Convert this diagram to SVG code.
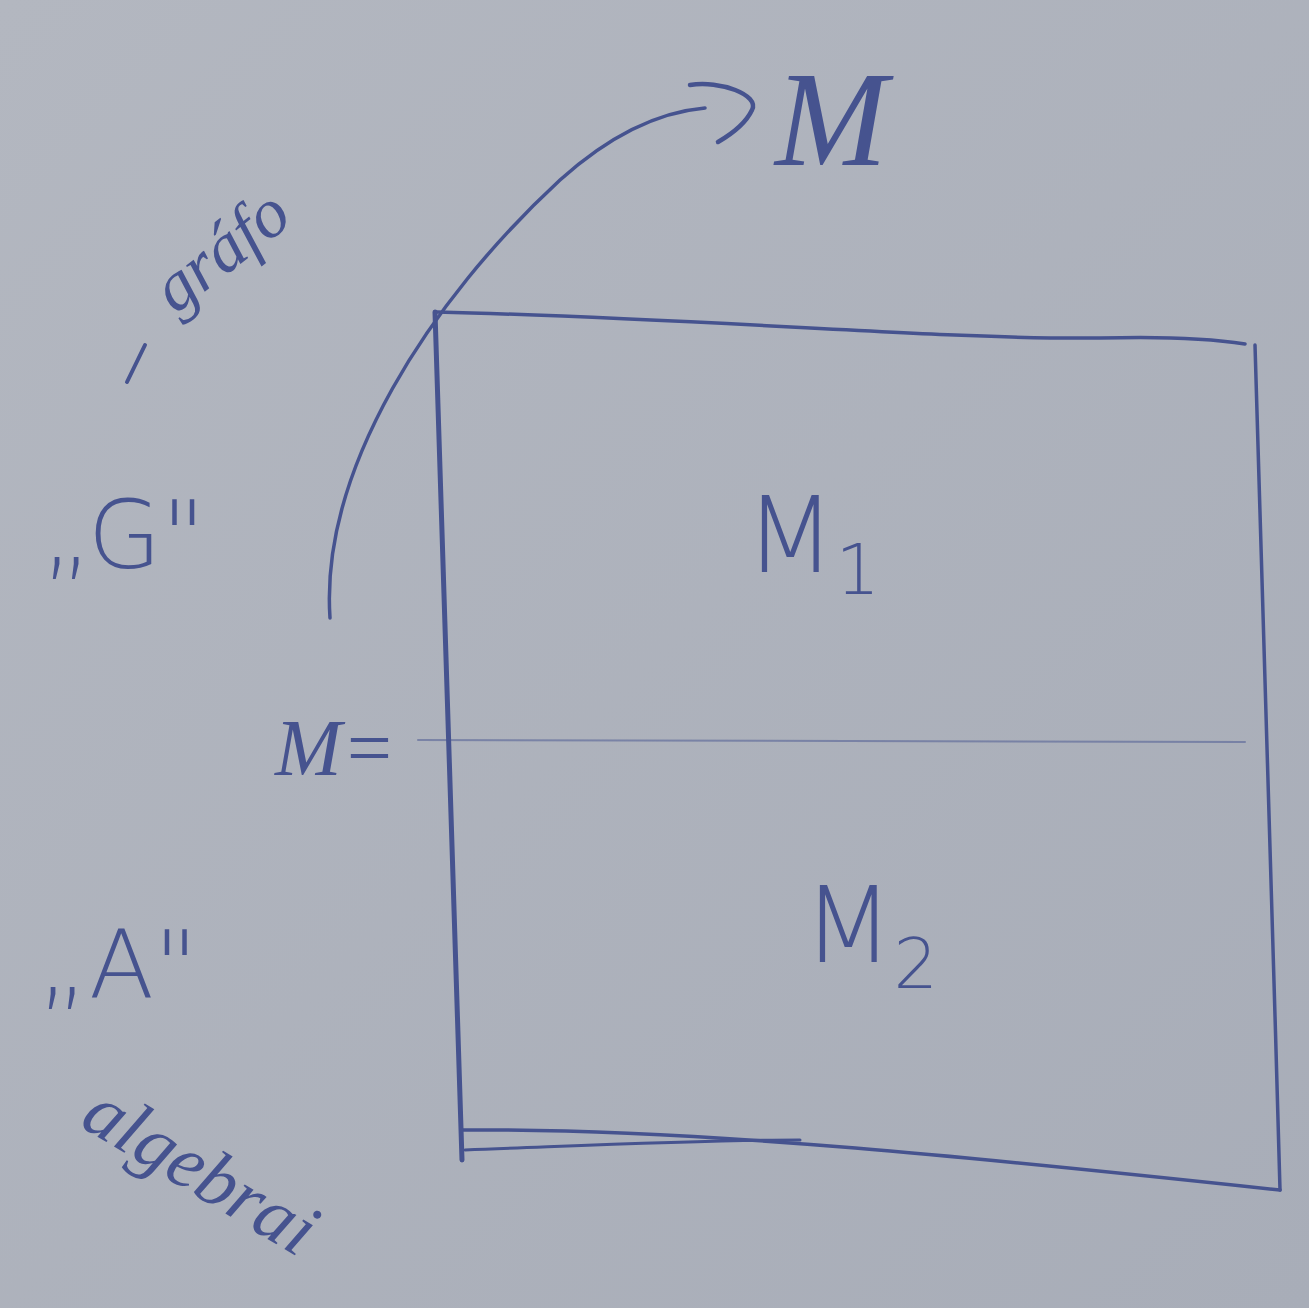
<svg xmlns="http://www.w3.org/2000/svg" width="1309" height="1308" viewBox="0 0 1309 1308">
<defs>
<style>
.ink{fill:none;stroke:#46538f;stroke-linecap:round;stroke-linejoin:round}
.t{fill:#46538f;font-family:"DejaVu Sans","Liberation Sans",sans-serif;font-weight:300}
.s{fill:#46538f;font-family:"Liberation Serif",serif;font-style:italic}
</style>
<linearGradient id="bg" x1="0" y1="0" x2="1" y2="1">
<stop offset="0" stop-color="#b3b7c0"/>
<stop offset="1" stop-color="#a8adb8"/>
</linearGradient>
</defs>
<rect width="1309" height="1308" fill="url(#bg)"/>
<g id="connectors">
<path class="ink" stroke-width="3.5" d="M330 618 C 320 470 430 300 560 180 C 610 135 660 112 705 108"/>
<path class="ink" stroke-width="4.5" d="M690 85 C 720 80 760 95 752 110 C 745 125 730 135 718 142"/>
<path class="ink" stroke-width="2" opacity="0.5" d="M418 740 L 1245 742"/>
</g>
<g id="box">
<path class="ink" stroke-width="3.5" d="M437 312 C 700 318 950 340 1100 338 C 1170 336 1220 340 1245 344"/>
<path class="ink" stroke-width="3.5" d="M1255 345 C 1262 600 1272 900 1280 1190"/>
<path class="ink" stroke-width="3.5" d="M462 1130 C 700 1128 1000 1160 1280 1190"/>
<path class="ink" stroke-width="3" d="M465 1150 C 600 1145 700 1140 800 1140"/>
<path class="ink" stroke-width="5" d="M435 312 C 440 500 450 800 462 1160"/>
</g>
<g id="label-M">
<text class="s" x="775" y="165" font-size="135">M</text>
</g>
<g id="label-M1">
<text class="t" x="745" y="572" font-size="105">M<tspan font-size="70" dy="22">1</tspan></text>
</g>
<g id="label-M2">
<text class="t" x="803" y="962" font-size="105">M<tspan font-size="70" dy="26">2</tspan></text>
</g>
<g id="label-Meq">
<text class="s" x="275" y="775" font-size="80">M=</text>
</g>
<g id="label-G">
<text class="t" x="42" y="568" font-size="95">„G"</text>
</g>
<g id="label-A">
<text class="t" x="38" y="998" font-size="95">„A"</text>
</g>
<g id="label-grafo">
<path class="ink" stroke-width="4" d="M127 382 L 145 345"/>
<text class="s" transform="translate(175 315) rotate(-38)" font-size="70">gráfo</text>
</g>
<g id="label-algebrai">
<text class="s" transform="translate(78 1125) rotate(31)" font-size="76">algebrai</text>
</g>
</svg>
